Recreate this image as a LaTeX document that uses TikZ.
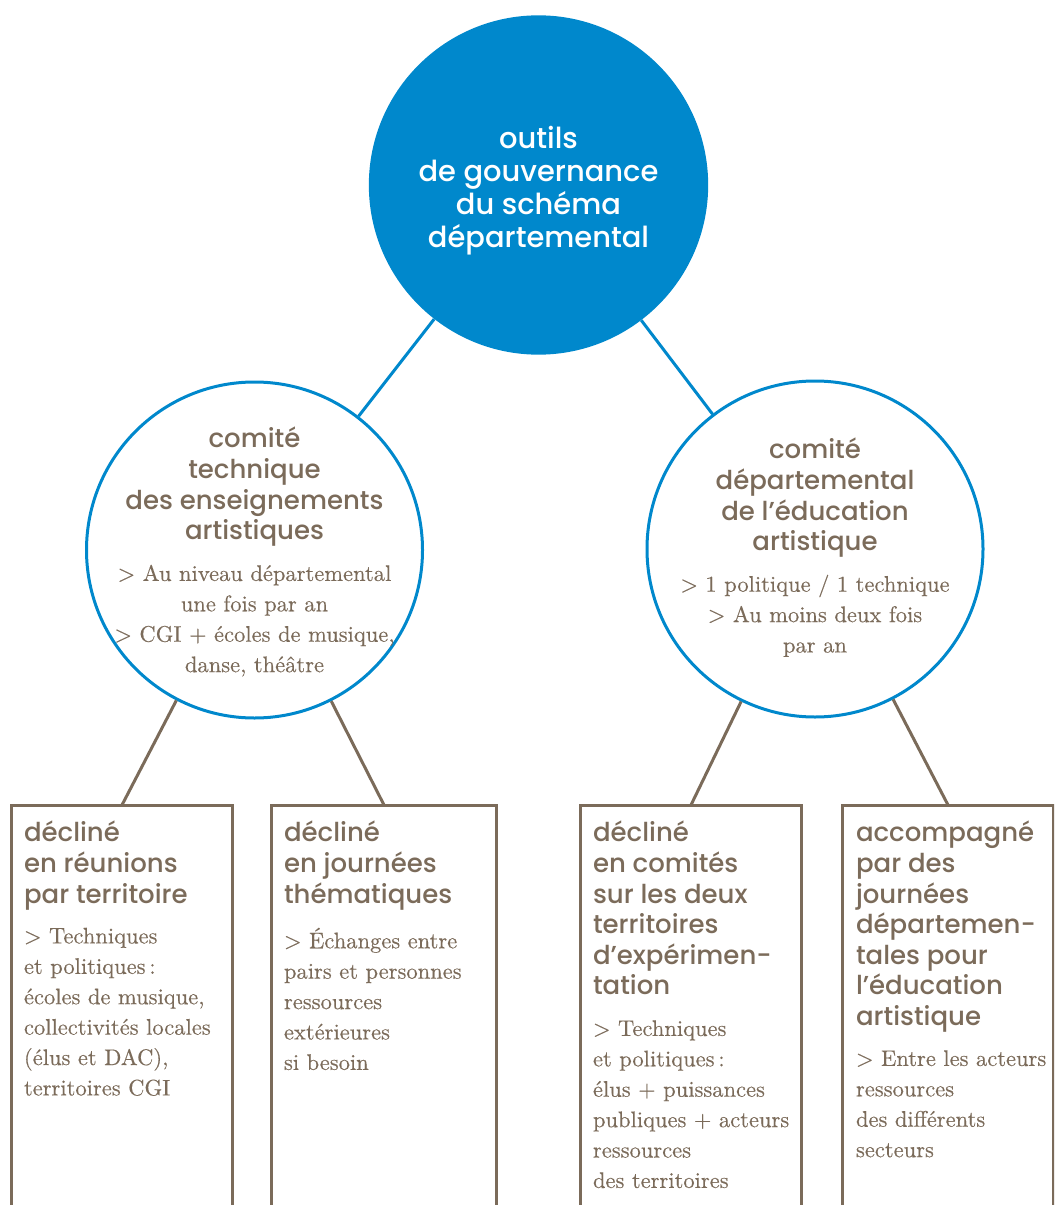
\documentclass[tikz,border=0pt]{standalone}
\usepackage{fontspec}
\usetikzlibrary{positioning}
\newfontfamily\headfont{Poppins}[UprightFont=* Medium]
\newfontfamily\bodyfont{lmroman10-regular}[Extension=.otf,FakeBold=0.3]
\definecolor{govblue}{RGB}{0,136,204}
\definecolor{govbrown}{RGB}{123,107,90}
\tikzset{
  govdisc/.style={circle,fill=govblue,minimum size=254.5pt,inner sep=0pt},
  govring/.style={circle,draw=govblue,line width=2.25pt,minimum size=252pt,inner sep=0pt},
  govbox/.style={minimum height=315pt,inner sep=0pt,anchor=north},
  toptxt/.style={font=\headfont\fontsize{21.7}{24.75}\selectfont,text=white,align=center,inner sep=0pt},
  headtxt/.style={font=\headfont\fontsize{19.5}{22.9}\selectfont,text=govbrown,inner sep=0pt},
  bodytxt/.style={font=\bodyfont\fontsize{16.9}{22.8}\selectfont,text=govbrown,inner sep=0pt},
  blueline/.style={draw=govblue,line width=2.25pt},
  brownline/.style={draw=govbrown,line width=2.25pt}
}
\begin{document}
\begin{tikzpicture}[x=0.75pt,y=0.75pt,yscale=-1,xscale=1]
\clip (0,0) rectangle (1054,1205);

%Shape: Circle (top)
\node[govdisc] (gov) at (538.5,185) {};
%Shape: Circle (left)
\node[govring] (ctea) at (254.5,550) {};
%Shape: Circle (right)
\node[govring] (cdea) at (815,549) {};

%Straight Lines
\draw[blueline] (gov) -- (ctea);
\draw[blueline] (gov) -- (cdea);

%Shape: Open boxes
\node[govbox,minimum width=165pt] (reun) at (122,805) {};
\node[govbox,minimum width=168pt] (jour) at (384,805) {};
\node[govbox,minimum width=165pt] (terr) at (691,805) {};
\node[govbox,minimum width=157.5pt] (acc) at (948,805) {};
\foreach \b in {reun,jour,terr,acc}
  \draw[brownline] (\b.south west) -- (\b.north west) -- (\b.north east) -- (\b.south east);

%Straight Lines
\draw[brownline] (ctea) -- (reun.north);
\draw[brownline] (ctea) -- (jour.north);
\draw[brownline] (cdea) -- (terr.north);
\draw[brownline] (cdea) -- (acc.north);

% Text Node
\node[toptxt] (govtxt) at (538.5,190.5) {outils\\de gouvernance\\du schéma\\départemental};
% Text Node
\node[headtxt,align=center,anchor=north] (cteahead) at (254.5,427) {comité\\technique\\des enseignements\\artistiques};
\node[bodytxt,align=center,anchor=north] (cteabody) at (254.5,564.5) {> Au niveau départemental\\une fois par an\\> CGI + écoles de musique,\\danse, théâtre};
% Text Node
\node[headtxt,align=center,anchor=north] (cdeahead) at (815,438) {comité\\départemental\\de l’éducation\\artistique};
\node[bodytxt,align=center,anchor=north] (cdeabody) at (815,574.5) {> 1 politique / 1 technique\\> Au moins deux fois\\par an};

% Text Node
\node[headtxt,align=left,anchor=north west] (reunhead) at ([shift={(12,16)}]reun.north west) {décliné\\en réunions\\par territoire};
\node[bodytxt,align=left,anchor=north west] (reunbody) at ([shift={(12,122.5)}]reun.north west) {> Techniques\\et politiques\,:\\écoles de musique,\\collectivités locales\\(élus et DAC),\\territoires CGI};
% Text Node
\node[headtxt,align=left,anchor=north west] (jourhead) at ([shift={(12,16)}]jour.north west) {décliné\\en journées\\thématiques};
\node[bodytxt,align=left,anchor=north west] (jourbody) at ([shift={(12,122.5)}]jour.north west) {> Échanges entre\\pairs et personnes\\ressources\\extérieures\\si besoin};
% Text Node
\node[headtxt,align=left,anchor=north west] (terrhead) at ([shift={(12,16)}]terr.north west) {décliné\\en comités\\sur les deux\\territoires\\d’expérimen-\\tation};
\node[bodytxt,align=left,anchor=north west] (terrbody) at ([shift={(12,215)}]terr.north west) {> Techniques\\et politiques\,:\\élus + puissances\\publiques + acteurs\\ressources\\des territoires};
% Text Node
\node[headtxt,align=left,anchor=north west] (acchead) at ([shift={(13,16)}]acc.north west) {accompagné\\par des\\journées\\départemen-\\tales pour\\l’éducation\\artistique};
\node[bodytxt,align=left,anchor=north west] (accbody) at ([shift={(13,245)}]acc.north west) {> Entre les acteurs\\ressources\\des différents\\secteurs};

\end{tikzpicture}
\end{document}
